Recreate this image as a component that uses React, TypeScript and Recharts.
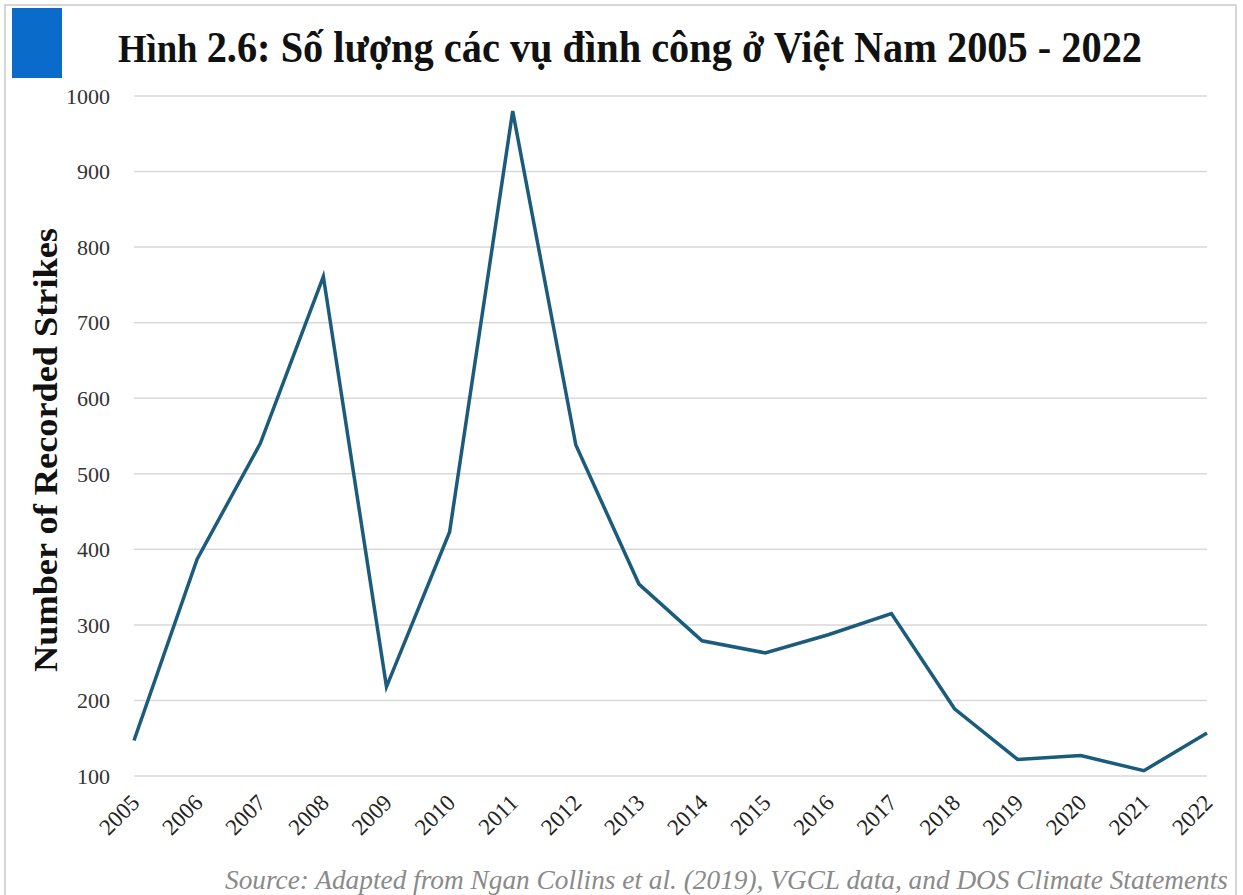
import { CartesianGrid, Line, LineChart, XAxis, YAxis } from 'recharts';

const years = [
  '2005', '2006', '2007', '2008', '2009', '2010', '2011', '2012', '2013',
  '2014', '2015', '2016', '2017', '2018', '2019', '2020', '2021', '2022',
];
const strikes = [
  147, 387, 540, 761, 218, 423, 980, 538, 354,
  279, 263, 287, 315, 189, 122, 127, 107, 157,
];
const yTicks = [100, 200, 300, 400, 500, 600, 700, 800, 900, 1000];

const titleLead = 'Hình ';
const titleRest = '2.6: Số lượng các vụ đình công ở Việt Nam 2005 - 2022';
const yLabel = 'Number of Recorded Strikes';
const source = 'Source: Adapted from Ngan Collins et al. (2019),  VGCL data, and DOS Climate Statements';

const data = years.map((year, i) => ({ year, strikes: strikes[i] }));

const SERIF = '"Liberation Serif", "Times New Roman", serif';

function YearTick(props: any) {
  const { x, y, payload } = props;
  return (
    <g transform={`translate(${x + 7},${y + 26})`}>
      <text
        x={0}
        y={0}
        textAnchor="end"
        transform="rotate(-45)"
        fontFamily={SERIF}
        fontSize={23}
        fill="#222"
      >
        {payload.value}
      </text>
    </g>
  );
}

export default function App() {
  return (
    <div style={{ position: 'fixed', left: 0, top: 0, width: 1243, height: 895, background: '#fff' }}>
      <div
        style={{
          position: 'absolute',
          left: 4,
          top: 4,
          width: 1233,
          height: 900,
          border: '2px solid #d6d6d6',
          boxSizing: 'border-box',
        }}
      />
      <div style={{ position: 'absolute', left: 12, top: 8, width: 50, height: 70, background: '#0b6bcb' }} />
      <LineChart
        width={1243}
        height={895}
        data={data}
        margin={{ top: 96, right: 36, bottom: 0, left: 34 }}
      >
        <CartesianGrid vertical={false} stroke="#d9d9d9" strokeWidth={1.5} />
        <XAxis
          dataKey="year"
          axisLine={false}
          tickLine={false}
          tickSize={0}
          interval={0}
          height={119}
          tick={<YearTick />}
        />
        <YAxis
          width={100}
          domain={[100, 1000]}
          ticks={yTicks}
          axisLine={false}
          tickLine={false}
          tickSize={0}
          tickMargin={24}
          tick={{ fontFamily: SERIF, fontSize: 22, fill: '#333' }}
        />
        <Line
          type="linear"
          dataKey="strikes"
          stroke="#1b5b7b"
          strokeWidth={3.5}
          dot={false}
          isAnimationActive={false}
        />
      </LineChart>
      <svg
        width={1243}
        height={895}
        style={{ position: 'absolute', left: 0, top: 0, pointerEvents: 'none' }}
      >
        <text x={118} y={62} fontFamily={SERIF} fontWeight="bold" fill="#111" textLength={1024} lengthAdjust="spacingAndGlyphs">
          <tspan fontSize={40}>{titleLead}</tspan>
          <tspan fontSize={44}>{titleRest}</tspan>
        </text>
        <text
          x={57}
          y={450}
          textAnchor="middle"
          transform="rotate(-90, 57, 450)"
          fontFamily={SERIF}
          fontWeight="bold"
          fontSize={34}
          fill="#111"
          textLength={444}
          lengthAdjust="spacingAndGlyphs"
        >
          {yLabel}
        </text>
        <text
          x={225}
          y={889}
          fontFamily={SERIF}
          fontStyle="italic"
          fontSize={27}
          fill="#8a8a8a"
          textLength={1003}
          lengthAdjust="spacingAndGlyphs"
        >
          {source}
        </text>
      </svg>
    </div>
  );
}
